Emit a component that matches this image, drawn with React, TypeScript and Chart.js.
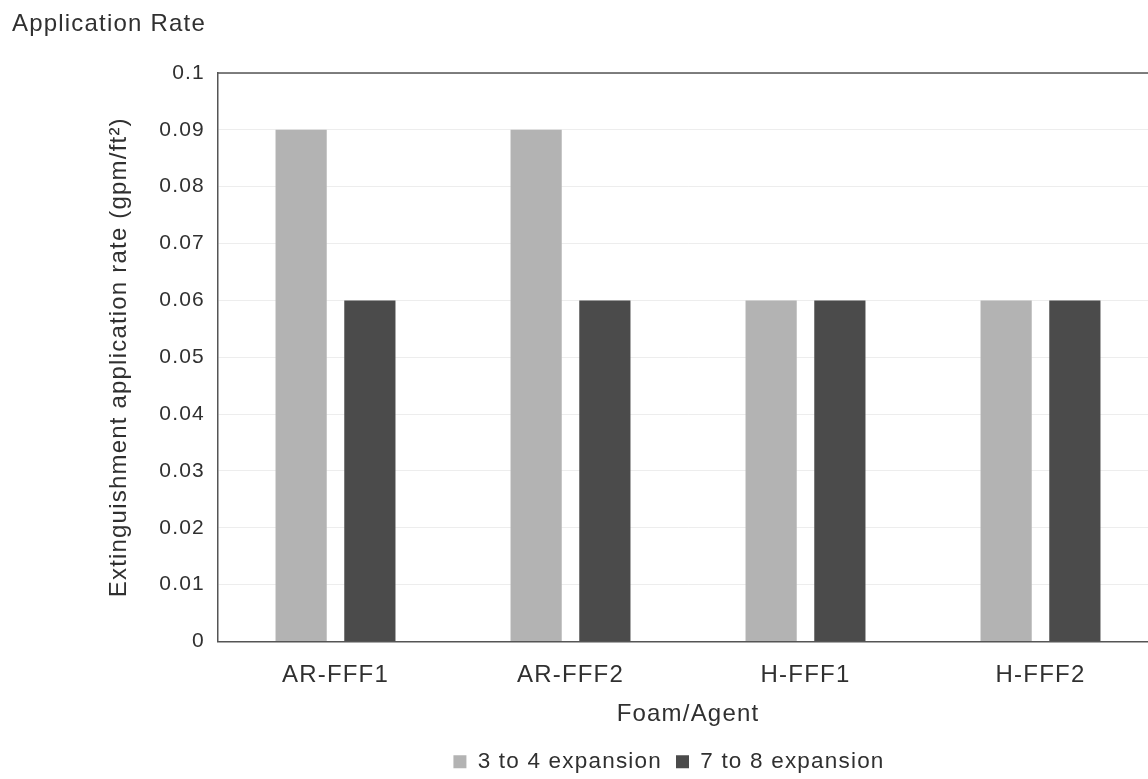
import React, { useEffect, useRef } from "react";
import { Chart, registerables } from "chart.js";

Chart.register(...registerables);

const categories = ["AR-FFF1", "AR-FFF2", "H-FFF1", "H-FFF2"];
const seriesLabels = ["3 to 4 expansion", "7 to 8 expansion"];
const expansion3to4 = [0.09, 0.09, 0.06, 0.06];
const expansion7to8 = [0.06, 0.06, 0.06, 0.06];
const yTickLabels = ["0", "0.01", "0.02", "0.03", "0.04", "0.05", "0.06", "0.07", "0.08", "0.09", "0.1"];
const chartTitle = "Application Rate";
const xAxisTitle = "Foam/Agent";
const yAxisTitle = "Extinguishment application rate (gpm/ft²)";

const FONT = "'Liberation Sans', Arial, Helvetica, sans-serif";
const TEXT = "#303030";
const AXIS = "#555555";
const LEGEND_CENTER_X = 669;
const LEGEND_SHIFT_Y = 4;
const LETTER_SPACING = "1.2px";

const letterSpacingPlugin = {
  id: "letterSpacing",
  beforeUpdate(chart: any) {
    chart.ctx.letterSpacing = LETTER_SPACING;
  },
  beforeDraw(chart: any) {
    chart.ctx.letterSpacing = LETTER_SPACING;
  },
};

const legendShiftPlugin = {
  id: "legendShift",
  afterLayout(chart: any) {
    const lg = chart.legend;
    if (!lg) return;
    const dx = LEGEND_CENTER_X - (lg.left + lg.right) / 2;
    lg.left += dx;
    lg.right += dx;
    lg.top += LEGEND_SHIFT_Y;
    lg.bottom += LEGEND_SHIFT_Y;
  },
};

const framePlugin = {
  id: "frame",
  afterDraw(chart: any) {
    const { ctx, chartArea } = chart;
    const { left, top, right, bottom } = chartArea;
    ctx.save();
    ctx.strokeStyle = AXIS;
    ctx.lineWidth = 1.5;
    ctx.beginPath();
    ctx.moveTo(left, top);
    ctx.lineTo(right, top);
    ctx.lineTo(right, bottom);
    ctx.stroke();
    ctx.restore();
  },
};

export default function App() {
  const ref = useRef<HTMLCanvasElement>(null);

  useEffect(() => {
    if (!ref.current) return;
    const chart = new Chart(ref.current, {
      type: "bar",
      data: {
        labels: categories,
        datasets: [
          {
            label: seriesLabels[0],
            data: expansion3to4,
            backgroundColor: "#b3b3b3",
            borderWidth: 0,
            categoryPercentage: 0.585,
            barPercentage: 0.745,
          },
          {
            label: seriesLabels[1],
            data: expansion7to8,
            backgroundColor: "#4b4b4b",
            borderWidth: 0,
            categoryPercentage: 0.585,
            barPercentage: 0.745,
          },
        ],
      },
      options: {
        responsive: false,
        animation: false,
        devicePixelRatio: 1,
        layout: { padding: { left: 12, right: 0, top: 0, bottom: 0 } },
        plugins: {
          title: {
            display: true,
            text: chartTitle,
            align: "start",
            color: TEXT,
            font: { size: 24, family: FONT, weight: "normal" },
            padding: { top: 9.6, bottom: 34.6 },
          },
          legend: {
            position: "bottom",
            labels: {
              boxWidth: 13,
              boxHeight: 13,
              padding: 14,
              color: TEXT,
              font: { size: 22.5, family: FONT },
            },
          },
          tooltip: { enabled: false },
        },
        scales: {
          x: {
            grid: { display: false },
            border: { display: true, color: AXIS, width: 1.5 },
            ticks: { color: TEXT, font: { size: 24, family: FONT }, padding: 11 },
            title: {
              display: true,
              text: xAxisTitle,
              color: TEXT,
              font: { size: 24, family: FONT },
              padding: { top: 0, bottom: 3.4 },
            },
          },
          y: {
            min: 0,
            max: 0.1,
            afterFit: (scale: any) => {
              scale.width = 206;
            },
            ticks: {
              stepSize: 0.01,
              color: TEXT,
              font: { size: 21, family: FONT },
              padding: 13,
              callback: (_v: any, i: number) => yTickLabels[i],
            },
            grid: { color: "rgba(0,0,0,0.07)", drawTicks: false },
            border: { display: true, color: AXIS, width: 1.5 },
            title: {
              display: true,
              text: yAxisTitle,
              color: TEXT,
              font: { size: 24, family: FONT },
              padding: { top: 93, bottom: 0 },
            },
          },
        },
      },
      plugins: [letterSpacingPlugin, legendShiftPlugin, framePlugin],
    } as any);
    return () => chart.destroy();
  }, []);

  return (
    <div
      style={{
        position: "fixed",
        left: 0,
        top: 0,
        width: 1148,
        height: 779,
        overflow: "hidden",
        background: "#ffffff",
      }}
    >
      <canvas ref={ref} width={1158} height={779} style={{ display: "block" }} />
    </div>
  );
}
